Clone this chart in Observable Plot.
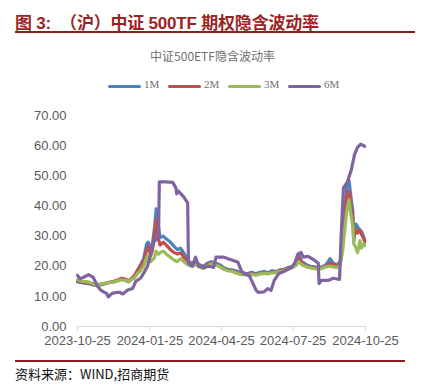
<!DOCTYPE html>
<html>
<head>
<meta charset="utf-8">
<script src="https://cdn.jsdelivr.net/npm/d3@7"></script>
<script src="https://cdn.jsdelivr.net/npm/@observablehq/plot@0.6"></script>
<style>
  html, body { margin: 0; padding: 0; background: #fff; }
  #page { position: relative; width: 425px; height: 389px; overflow: hidden; font-family: "Liberation Sans", Arial, sans-serif; }
  #title { position: absolute; left: 15px; top: 9px; font-size: 17px; font-weight: bold; color: #9C2424; font-family: "Liberation Sans", "Noto Sans CJK SC", sans-serif; white-space: nowrap; letter-spacing: -0.2px; }
  #rule1 { position: absolute; left: 15px; top: 31px; width: 400px; height: 2px; background: #8E1F1F; }
  #ctitle { position: absolute; left: 0; width: 425px; top: 47px; text-align: center; font-size: 12px; color: #707070; font-family: "Noto Sans CJK SC", sans-serif; }
  #legend { position: absolute; top: 79px; left: 108px; height: 14px; font-size: 11px; color: #707070; font-family: "Liberation Serif", "DejaVu Serif", serif; }
  .li { position: absolute; top: 0; white-space: nowrap; }
  .sw { position: absolute; top: 6px; width: 33px; height: 3px; border-radius: 2px; }
  .lt { position: absolute; top: -1px; }
  #chart { position: absolute; left: 0; top: 100px; }
  #rule2 { position: absolute; left: 15px; top: 360px; width: 390px; height: 2px; background: #8E1F1F; }
  #caption { position: absolute; left: 15px; top: 364px; font-size: 13px; color: #111; font-family: "Noto Sans CJK SC", "Liberation Sans", sans-serif; white-space: nowrap; }
</style>
</head>
<body>
<div id="page">
  <div id="title">图 3:&nbsp; （沪）中证 500TF 期权隐含波动率</div>
  <div id="rule1"></div>
  <div id="ctitle">中证500ETF隐含波动率</div>
  <div id="legend"></div>
  <div id="chart"></div>
  <div id="rule2"></div>
  <div id="caption">资料来源：WIND,招商期货</div>
</div>
<script>
// ---- data ----
const seriesNames = ["1M", "2M", "3M", "6M"];
const seriesColors = ["#4F81BD", "#C0504D", "#9BBB59", "#8064A2"];
const xTickDates = ["2023-10-25", "2024-01-25", "2024-04-25", "2024-07-25", "2024-10-25"];
const yTicks = [0, 10, 20, 30, 40, 50, 60, 70];

const dates = ["2023-10-25","2023-10-31","2023-11-08","2023-11-14","2023-11-19","2023-11-27","2023-12-03","2023-12-10","2023-12-16","2023-12-20","2023-12-24","2023-12-29","2024-01-01","2024-01-05","2024-01-09","2024-01-13","2024-01-17","2024-01-21","2024-01-23","2024-01-26","2024-01-28","2024-01-31","2024-02-02","2024-02-05","2024-02-07","2024-02-11","2024-02-15","2024-02-20","2024-02-25","2024-02-29","2024-03-04","2024-03-08","2024-03-13","2024-03-18","2024-03-23","2024-03-28","2024-04-02","2024-04-07","2024-04-12","2024-04-18","2024-04-23","2024-04-28","2024-05-03","2024-05-08","2024-05-13","2024-05-18","2024-05-23","2024-05-28","2024-06-02","2024-06-08","2024-06-13","2024-06-18","2024-06-23","2024-06-28","2024-07-03","2024-07-08","2024-07-13","2024-07-18","2024-07-24","2024-07-29","2024-08-01","2024-08-05","2024-08-11","2024-08-16","2024-08-21","2024-08-26","2024-08-31","2024-09-05","2024-09-10","2024-09-14","2024-09-19","2024-09-23","2024-09-26","2024-09-29","2024-10-01","2024-10-04","2024-10-06","2024-10-09","2024-10-10","2024-10-13","2024-10-15","2024-10-18","2024-10-20","2024-10-23","2024-10-24"];
const iv1M = [14.8,14.5,14.2,13.8,13.5,14.0,14.5,14.8,15.3,15.8,15.5,14.8,15.5,16.5,18.5,20.5,22.5,27.5,28.0,24.5,27.0,33.0,39.0,33.0,29.5,30.0,29.0,28.0,26.5,25.5,26.0,24.5,22.0,21.0,21.5,20.5,20.0,21.0,21.5,21.0,20.5,19.5,19.0,18.8,18.5,18.0,17.8,17.5,18.0,17.5,18.0,18.2,17.8,18.5,18.2,18.8,19.0,19.5,20.0,21.5,24.0,21.5,20.5,20.0,19.8,19.5,19.8,20.5,22.5,21.0,20.5,21.5,30.0,38.0,47.0,48.5,44.0,38.0,28.0,34.0,33.0,32.0,31.5,29.5,28.5];
const iv2M = [15.2,14.8,14.5,14.0,13.8,14.2,14.6,15.0,15.5,16.0,15.8,15.2,15.8,16.8,18.5,20.0,21.5,25.5,26.5,23.5,25.0,30.0,35.5,29.0,27.0,28.0,27.0,25.5,24.5,24.0,24.5,23.0,21.5,20.5,21.0,20.0,19.5,20.5,21.0,20.5,20.0,19.0,18.7,18.5,18.0,17.5,17.5,17.2,17.5,17.2,17.5,17.8,17.5,18.0,18.0,18.5,18.8,19.2,19.8,21.0,23.0,21.0,20.0,19.5,19.5,19.2,19.5,20.0,21.0,20.5,20.0,21.0,28.0,36.0,43.0,45.0,41.0,35.0,30.0,32.0,31.0,32.0,30.5,29.0,27.8];
const iv3M = [15.5,15.0,14.8,14.2,13.8,14.3,14.5,14.8,15.2,15.5,15.3,15.0,15.5,16.0,17.5,18.5,20.0,23.0,23.5,21.5,22.0,23.0,25.0,24.0,24.5,25.0,24.0,23.0,22.0,21.5,22.5,21.5,20.5,20.0,20.5,19.8,19.2,20.0,20.8,20.3,19.8,19.0,18.5,18.3,17.8,17.3,17.2,17.0,17.3,17.0,17.5,17.6,17.5,17.8,17.8,18.3,18.5,19.0,19.5,20.3,21.5,20.5,19.8,19.5,19.2,19.0,19.3,19.8,20.0,19.8,19.5,20.5,25.0,33.0,38.0,42.0,38.0,33.0,27.5,26.0,24.5,28.5,26.0,27.5,26.8];

const dates6M = ["2023-10-25","2023-10-28","2023-11-03","2023-11-08","2023-11-14","2023-11-19","2023-11-23","2023-11-27","2023-12-01","2023-12-03","2023-12-08","2023-12-13","2023-12-18","2023-12-22","2023-12-27","2024-01-03","2024-01-07","2024-01-13","2024-01-17","2024-01-22","2024-01-26","2024-01-28","2024-02-01","2024-02-05","2024-02-06","2024-02-14","2024-02-23","2024-02-27","2024-02-28","2024-03-01","2024-03-08","2024-03-13","2024-03-14","2024-03-19","2024-03-23","2024-03-27","2024-04-02","2024-04-09","2024-04-15","2024-04-18","2024-04-28","2024-05-09","2024-05-16","2024-05-20","2024-05-23","2024-05-30","2024-06-04","2024-06-08","2024-06-11","2024-06-18","2024-06-23","2024-06-27","2024-07-01","2024-07-07","2024-07-16","2024-07-23","2024-07-27","2024-07-31","2024-08-04","2024-08-07","2024-08-13","2024-08-21","2024-08-26","2024-08-27","2024-08-30","2024-09-08","2024-09-14","2024-09-22","2024-09-24","2024-09-27","2024-10-02","2024-10-07","2024-10-11","2024-10-15","2024-10-19","2024-10-24"];
const iv6M = [17.0,15.8,16.5,17.2,16.3,13.6,12.2,11.5,11.0,9.8,11.0,11.3,11.3,10.8,12.0,12.6,15.0,16.0,17.6,20.0,24.0,27.5,28.6,30.0,48.0,48.0,47.8,46.0,44.0,45.0,43.0,41.0,21.0,20.0,23.0,20.0,19.6,20.0,19.6,23.0,23.0,22.0,21.3,18.6,17.6,17.0,14.3,12.0,11.3,11.5,12.6,12.0,15.3,17.6,18.6,19.6,21.0,24.0,24.6,23.0,23.3,22.0,21.0,14.3,15.3,15.3,16.0,15.6,30.0,46.0,48.0,52.0,57.0,59.5,60.5,59.8];

// ---- table for Plot ----
const rows = [];
[iv1M, iv2M, iv3M].forEach((arr, k) => {
  dates.forEach((d, i) => rows.push({date: new Date(d), v: arr[i], s: seriesNames[k]}));
});
dates6M.forEach((d, i) => rows.push({date: new Date(d), v: iv6M[i], s: seriesNames[3]}));

// ---- legend ----
const legend = document.getElementById("legend");
const legendX = [0, 60, 120, 180];
seriesNames.forEach((n, i) => {
  const item = document.createElement("div");
  item.className = "li";
  item.style.left = legendX[i] + "px";
  item.innerHTML = `<div class="sw" style="background:${seriesColors[i]}"></div><div class="lt" style="left:36px">${n}</div>`;
  legend.appendChild(item);
});

// ---- chart ----
const chart = Plot.plot({
  width: 425,
  height: 250,
  marginTop: 15,
  marginBottom: 24,
  marginLeft: 77,
  marginRight: 60,
  style: {fontFamily: "'Liberation Sans', Arial, sans-serif", fontSize: "13px", color: "#595959", background: "transparent"},
  x: {type: "utc", domain: [new Date(xTickDates[0]), new Date(xTickDates[4])]},
  y: {domain: [0, 70]},
  color: {domain: seriesNames, range: seriesColors},
  marks: [
    Plot.axisY({ticks: yTicks, tickFormat: d3.format(".2f"), tickSize: 0, tickPadding: 11, label: null, fill: "#595959"}),
    Plot.axisX({ticks: xTickDates.map(d => new Date(d)), tickFormat: d3.utcFormat("%Y-%m-%d"), tickSize: 5, tickPadding: 4, label: null, stroke: "#d9d9d9", fill: "#595959"}),
    Plot.ruleY([0], {stroke: "#d9d9d9", strokeWidth: 1}),
    Plot.line(rows, {x: "date", y: "v", z: "s", stroke: "s", strokeWidth: 3.2, strokeLinejoin: "round", strokeLinecap: "round"})
  ]
});
document.getElementById("chart").appendChild(chart);
</script>
</body>
</html>
